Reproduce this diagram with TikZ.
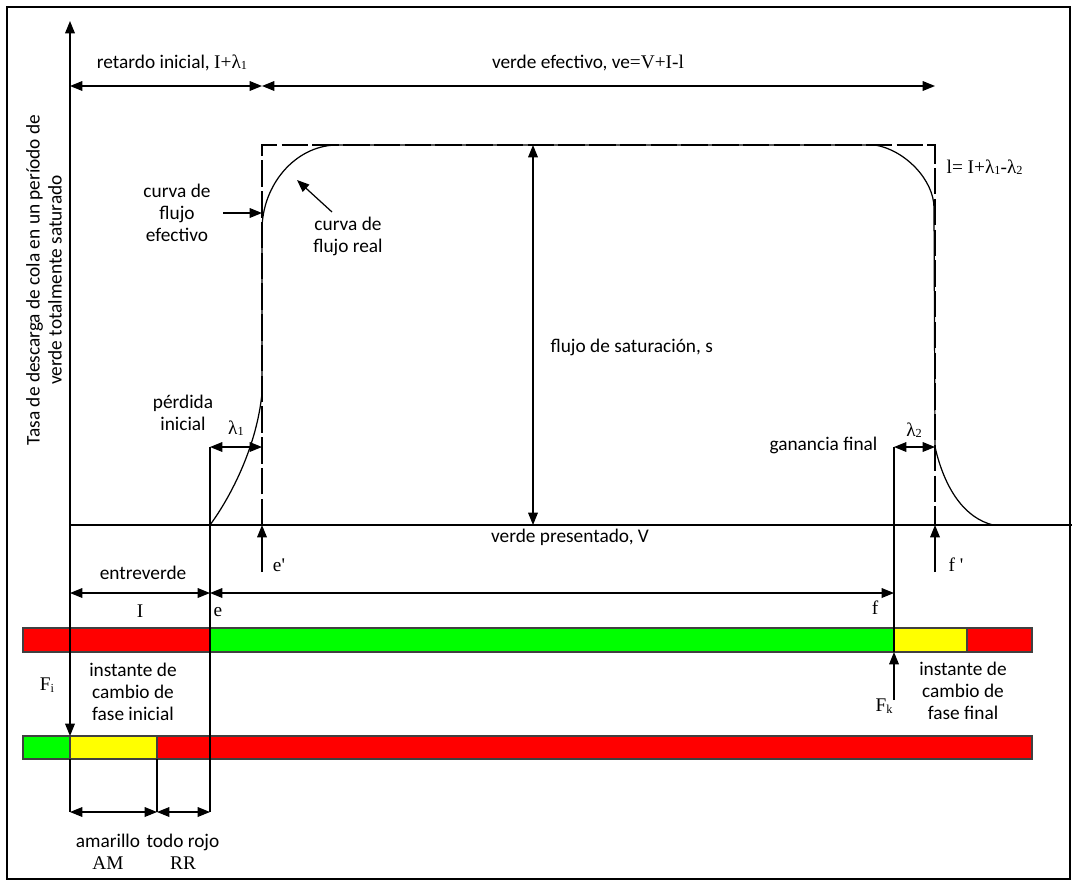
\documentclass[tikz,border=0pt]{standalone}
\usepackage{fontspec}
\setmainfont{Carlito}
\newfontfamily\serifa{Liberation Serif}
\usetikzlibrary{arrows.meta}
\definecolor{rojo}{RGB}{255,0,0}
\definecolor{verde}{RGB}{0,255,0}
\definecolor{amar}{RGB}{255,255,0}
\newcommand{\lam}[1]{λ\raisebox{-0.15ex}{\scriptsize #1}}
\newcommand{\sub}[1]{\raisebox{-0.3ex}{\scriptsize #1}}

\begin{document}
\begin{tikzpicture}[x=0.02cm,y=-0.02cm,line width=0.7pt,
        >={Triangle[length=7pt,width=5.5pt]},
        eff/.style={dash pattern=on 15pt off 2.5pt},
        lbl/.style={font=\fontsize{11}{12.5}\selectfont,align=center,inner sep=0pt},
        sym/.style={font=\serifa\fontsize{11}{12.5}\selectfont,align=center,inner sep=0pt},
        bar/.style={draw=black!75,line width=0.6pt}]
        \useasboundingbox (0,0) rectangle (1077,886);
        \draw[line width=1.5pt] (7,7) rectangle (1070,879);
        \coordinate (O) at (70,525);
        \coordinate (ytop) at (70,21);
        \coordinate (xend) at (1072,525);
        \coordinate (e) at (210,525);
        \coordinate (ep) at (262,525);
        \coordinate (f) at (894,525);
        \coordinate (fp) at (935,525);
        \draw[bar,fill=rojo] (23,628) rectangle (210,652);
        \draw[bar,fill=verde] (210,628) rectangle (894,652);
        \draw[bar,fill=amar] (894,628) rectangle (967,652);
        \draw[bar,fill=rojo] (967,628) rectangle (1032,652);
        \draw[bar,fill=verde] (23,736) rectangle (70,759);
        \draw[bar,fill=amar] (70,736) rectangle (157,759);
        \draw[bar,fill=rojo] (157,736) rectangle (1032,759);
        \draw[->] (O) -- (ytop);
        \draw (O) -- (xend);
        \draw[->] (O) -- (70,736);
        \draw (70,759) -- (70,812);
        \node[lbl,rotate=90] (ylab) at (44,280) {Tasa de descarga de cola en un período de\\verde totalmente saturado};
        \draw[<->] (70,86) -- (262,86);
        \draw[<->] (262,86) -- (935,86);
        \node[lbl] (retardo) at (172,63) {retardo inicial, {\serifa I+\lam{1}}};
        \node[lbl] (vefec) at (588,63) {verde efectivo, ve{\serifa =V+I-l}};
        \draw[eff] (ep) -- (262,145) -- (935,145) -- (fp);
        \draw (e) .. controls (232,495) and (257,445) .. (262,393) -- (262,230)
            .. controls (262,185) and (295,146) .. (336,145) -- (875,145)
            .. controls (905,150) and (934,180) .. (934,208) -- (935,447)
            .. controls (945,490) and (965,518) .. (993,525);
        \node[sym,anchor=west] (ldef) at (946,167) {l= I+\lam{1}-\lam{2}};
        \draw[<->] (533,145) -- (533,525);
        \node[lbl,anchor=west] (sat) at (550,347) {flujo de saturación, s};
        \node[lbl] (cefec) at (177,213) {curva de\\flujo\\efectivo};
        \draw[->] (223,213) -- (262,213);
        \node[lbl] (creal) at (348,236) {curva de\\flujo real};
        \draw[->] (332,212) -- (297,180);
        \node[lbl] (perd) at (183,413) {pérdida\\inicial};
        \draw (210,447) -- (210,812);
        \draw[<->] (210,447) -- (262,447);
        \node[sym] (l1) at (236,428) {\lam{1}};
        \node[lbl,anchor=east] (gan) at (878,445) {ganancia final};
        \draw (894,447) -- (894,652);
        \draw[<->] (894,447) -- (935,447);
        \node[sym] (l2) at (914,430) {\lam{2}};
        \draw[->] (262,572) -- (ep);
        \node[sym] (eplab) at (279,565) {e'};
        \draw[->] (935,572) -- (fp);
        \node[sym] (fplab) at (956,565) {f '};
        \node[lbl] (vpres) at (570,537) {verde presentado, V};
        \draw[<->] (70,593) -- (210,593);
        \draw[<->] (210,593) -- (894,593);
        \node[lbl] (entre) at (143,573) {entreverde};
        \node[sym] (Ilab) at (140,611) {I};
        \node[sym] (elab) at (218,612) {e};
        \node[sym] (flab) at (875,608) {f};
        \draw[->] (894,700) -- (894,652);
        \node[sym] (Fk) at (884,706) {F\sub{k}};
        \node[lbl] (finfin) at (963,691) {instante de\\cambio de\\fase final};
        \node[sym] (Fi) at (47,685) {F\sub{i}};
        \node[lbl] (finini) at (133,692) {instante de\\cambio de\\fase inicial};
        \draw (157,759) -- (157,812);
        \draw[<->] (70,812) -- (157,812);
        \draw[<->] (157,812) -- (210,812);
        \node[lbl] (amlab) at (108,852) {amarillo\\{\serifa AM}};
        \node[lbl] (rrlab) at (183,852) {todo rojo\\{\serifa RR}};
    \end{tikzpicture}
\end{document}
